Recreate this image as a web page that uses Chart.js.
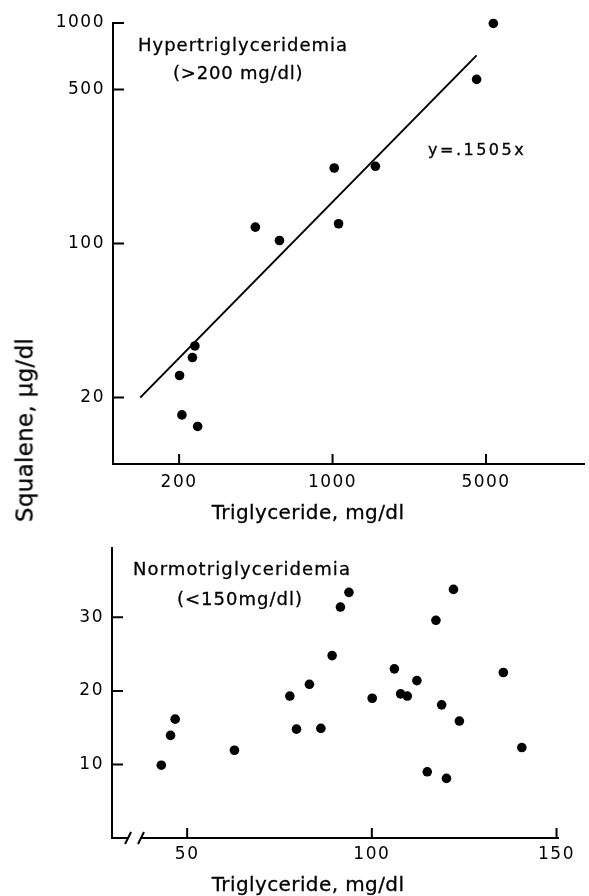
<!DOCTYPE html>
<html>
<head>
<meta charset="utf-8">
<script src="https://cdn.jsdelivr.net/npm/chart.js@4"></script>
<style>
  body { margin: 0; background: #fff; }
  #wrap { position: relative; width: 589px; height: 896px; overflow: hidden; font-family: "DejaVu Sans", sans-serif; color: #000; }
  canvas { position: absolute; left: 0; }
  .lbl { position: absolute; white-space: nowrap; line-height: 1; -webkit-text-stroke: 0.3px #000; }
</style>
</head>
<body>
<div id="wrap">
  <canvas id="hyperChart" width="589" height="530" style="top:0"></canvas>
  <canvas id="normoChart" width="589" height="366" style="top:530px"></canvas>

  <div class="lbl" style="left:138px; top:36px; font-size:18px; letter-spacing:1px">Hypertriglyceridemia</div>
  <div class="lbl" style="left:173px; top:64px; font-size:18px; letter-spacing:0.8px">(&gt;200 mg/dl)</div>
  <div class="lbl" style="left:428px; top:142px; font-size:16px; letter-spacing:2.5px">y=.1505x</div>
  <div class="lbl" style="left:308px; top:502px; font-size:20px; letter-spacing:0.4px; transform:translateX(-50%)">Triglyceride, mg/dl</div>

  <div class="lbl" style="left:133px; top:560px; font-size:18px; letter-spacing:1.1px">Normotriglyceridemia</div>
  <div class="lbl" style="left:177px; top:590px; font-size:18px; letter-spacing:1px">(&lt;150mg/dl)</div>
  <div class="lbl" style="left:308px; top:874px; font-size:20px; letter-spacing:0.4px; transform:translateX(-50%)">Triglyceride, mg/dl</div>

  <div class="lbl" style="left:25px; top:430px; font-size:23px; letter-spacing:0.3px; transform:translate(-50%,-50%) rotate(-90deg)">Squalene, μg/dl</div>
</div>

<script>
// hypertriglyceridemia (>200 mg/dl), log-log
const hyperTG = [201, 206, 230, 236, 243, 445, 573, 1018, 1065, 1567, 4530, 5400];
const hyperSq = [25.2, 16.7, 30.4, 34.3, 14.8, 118.6, 103.2, 220, 122.9, 224, 555, 995];
const fitTG = [133, 4530];
const fitSq = [20, 713];
const hyperXTicks = [200, 1000, 5000];
const hyperYTicks = [20, 100, 500, 1000];

// normotriglyceridemia (<150 mg/dl), linear
const normoTG = [43.0, 45.5, 46.75, 62.8, 77.8, 79.6, 83.1, 86.2, 89.25, 91.5, 93.8, 100.1,
                 106.1, 107.8, 109.6, 112.2, 115.0, 117.35, 118.9, 120.2, 122.1, 123.7, 135.6, 140.6];
const normoSq = [9.9, 13.95, 16.16, 11.93, 19.3, 14.8, 20.9, 14.9, 24.8, 31.4, 33.4, 19.0,
                 23.0, 19.6, 19.3, 21.4, 9.0, 29.6, 18.1, 8.1, 33.8, 15.9, 22.5, 12.3];
const normoXTicks = [50, 100, 150];
const normoYTicks = [10, 20, 30];

Chart.defaults.font.family = '"DejaVu Sans", sans-serif';
Chart.defaults.font.size = 17;
Chart.defaults.color = '#000';

// inward tick marks + optional axis break
const axisTicks = {
    id: 'axisTicks',
    beforeDraw(chart) {
        chart.ctx.letterSpacing = '1.5px';
    },
    afterDraw(chart, args, opts) {
        const { ctx, chartArea: a, scales: { x, y } } = chart;
        ctx.save();
        ctx.strokeStyle = '#000';
        ctx.lineWidth = 2;
        ctx.beginPath();
        x.ticks.forEach(t => {
            const p = x.getPixelForValue(t.value);
            ctx.moveTo(p, a.bottom);
            ctx.lineTo(p, a.bottom - 10);
        });
        y.ticks.forEach(t => {
            const p = y.getPixelForValue(t.value);
            ctx.moveTo(a.left, p);
            ctx.lineTo(a.left + 11, p);
        });
        ctx.stroke();
        if (opts.breakAt) {
            const b0 = x.getPixelForValue(opts.breakAt[0]);
            const b1 = x.getPixelForValue(opts.breakAt[1]);
            ctx.fillStyle = '#fff';
            ctx.fillRect(b0, a.bottom - 3, b1 - b0, 6);
            ctx.beginPath();
            [b0, b1].forEach(p => {
                ctx.moveTo(p - 3, a.bottom + 6);
                ctx.lineTo(p + 3, a.bottom - 6);
            });
            ctx.stroke();
        }
        ctx.restore();
    }
};

function makeScale(type, min, max, tickList, side, size, pad) {
    return {
        type: type,
        min: min,
        max: max,
        afterBuildTicks: s => { s.ticks = tickList.map(v => ({ value: v })); },
        afterFit: s => { if (side === 'x') s.height = size; else s.width = size; },
        grid: { display: false, drawTicks: false },
        border: { display: true, color: '#000', width: 2 },
        ticks: { padding: pad, autoSkip: false, maxRotation: 0, callback: v => String(v) }
    };
}

const pointStyle = {
    pointRadius: 4.8,
    pointBackgroundColor: '#000',
    pointBorderWidth: 0,
    clip: false
};

new Chart(document.getElementById('hyperChart'), {
    type: 'scatter',
    data: {
        datasets: [
            {
                data: fitTG.map((v, i) => ({ x: v, y: fitSq[i] })),
                showLine: true,
                borderColor: '#000',
                borderWidth: 2,
                pointRadius: 0,
                clip: false
            },
            Object.assign({ data: hyperTG.map((v, i) => ({ x: v, y: hyperSq[i] })) }, pointStyle)
        ]
    },
    options: {
        responsive: false,
        animation: false,
        layout: { padding: { top: 23, right: 0, bottom: 0, left: 0 } },
        plugins: { legend: { display: false }, tooltip: { enabled: false } },
        scales: {
            x: makeScale('logarithmic', 100, 14000, hyperXTicks, 'x', 66, 8),
            y: makeScale('logarithmic', 10, 1000, hyperYTicks, 'y', 113, 8)
        }
    },
    plugins: [axisTicks]
});

new Chart(document.getElementById('normoChart'), {
    type: 'scatter',
    data: {
        datasets: [
            Object.assign({ data: normoTG.map((v, i) => ({ x: v, y: normoSq[i] })) }, pointStyle)
        ]
    },
    options: {
        responsive: false,
        animation: false,
        layout: { padding: { top: 14, right: 31, bottom: 0, left: 0 } },
        plugins: {
            legend: { display: false },
            tooltip: { enabled: false },
            axisTicks: { breakAt: [34, 37.5] }
        },
        scales: {
            x: makeScale('linear', 29.65, 150.4, normoXTicks, 'x', 58, 6),
            y: makeScale('linear', 0, 39.4, normoYTicks, 'y', 112, 8)
        }
    },
    plugins: [axisTicks]
});
</script>
</body>
</html>
